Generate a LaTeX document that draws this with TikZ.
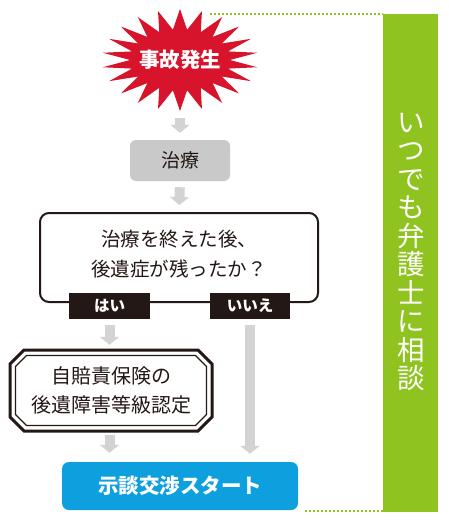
\documentclass[tikz,border=0pt]{standalone}
\usepackage{fontspec}
\setmainfont{Noto Sans CJK JP}
\usetikzlibrary{arrows.meta}
\definecolor{starred}{HTML}{D7142C}
\definecolor{barg}{HTML}{8FC31F}
\definecolor{bblue}{HTML}{0EA0DE}
\definecolor{agray}{HTML}{D3D3D3}
\definecolor{bgray}{HTML}{C9C9C9}
\definecolor{ink}{HTML}{231815}
\begin{document}
\begin{tikzpicture}[x=1pt,y=-1pt,
  garrow/.style={draw=agray, line width=10pt, -{Triangle[length=8pt,width=19pt]}},
  lab/.style={fill=ink, text=white, font=\fontsize{15.5}{15.5}\selectfont\bfseries, minimum height=26pt, inner sep=0pt},
  dots/.style={draw=barg, line width=1.6pt, dash pattern=on 2pt off 2pt}]
\useasboundingbox (0,0) rectangle (449,522);
% green bar
\fill[barg] (383,14) rectangle (438,512);
\node[text=white, align=center, font=\fontsize{27.5}{28.5}\selectfont] (bar) at (411,252)
  {い\\つ\\で\\も\\弁\\護\\士\\に\\相\\談};
\draw[dots] (210,14) -- (383,14);
\draw[dots] (305,511) -- (383,511);
% starburst
\fill[starred] plot[samples=45, domain=0:44, variable=\k]
  ({180+78*(1-0.36*mod(round(\k),2))*cos(\k*360/44-90)},
   {60+51*(1-0.40*mod(round(\k),2))*sin(\k*360/44-90)}) -- cycle;
\node[minimum width=100pt, minimum height=116pt, inner sep=0pt, text=white,
  font=\fontsize{20.5}{20.5}\selectfont\bfseries] (acc) at (180,60) {事故発生};
% care
\node[fill=bgray, rounded corners=6pt, minimum width=100pt, minimum height=41pt,
  inner sep=0pt, text=ink, font=\fontsize{19}{19}\selectfont] (care) at (180,160.5) {治療};
% question
\node[draw=ink, line width=2pt, rounded corners=9pt, minimum width=278pt,
  minimum height=89pt, inner sep=0pt] (q) at (179,257.5) {};
\node[align=center, text=ink, font=\fontsize{19.5}{29.5}\selectfont] (qt) at (179,254)
  {治療を終えた後、\\後遺症が残ったか？};
\node[lab, minimum width=81pt] (yes) at (109.5,306) {はい};
\node[lab, minimum width=80pt] (no) at (250,306) {いいえ};
% octagon
\node[minimum width=202pt, minimum height=81pt, inner sep=0pt] (oct) at (111,390.5) {};
\draw[ink, line width=3pt, fill=white, line join=miter]
  (10,364) -- (24,350) -- (198,350) -- (212,364) -- (212,417) -- (198,431)
  -- (24,431) -- (10,417) -- cycle;
\draw[ink, line width=1.2pt, line join=miter]
  (15.5,366.5) -- (26.5,355.5) -- (195.5,355.5) -- (206.5,366.5) -- (206.5,414.5)
  -- (195.5,425.5) -- (26.5,425.5) -- (15.5,414.5) -- cycle;
\node[align=center, text=ink, font=\fontsize{20}{29}\selectfont] (octt) at (oct.center)
  {自賠責保険の\\後遺障害等級認定};
% blue
\node[fill=bblue, rounded corners=7pt, minimum width=236pt, minimum height=48pt,
  inner sep=0pt, text=white, font=\fontsize{20.5}{20.5}\selectfont\bfseries] (go) at (180,486)
  {示談交渉スタート};
% arrows
\draw[garrow, shorten >=7pt] (acc.south) -- (care.north);
\draw[garrow, shorten <=6pt, shorten >=7pt] (care.south) -- (q.north);
\draw[garrow, shorten <=6pt, shorten >=5pt] (yes.south) -- (yes.south |- oct.north);
\draw[garrow, shorten <=4pt, shorten >=9pt] (oct.south -| yes.south) -- (yes.south |- go.north);
\draw[garrow, shorten <=6pt, shorten >=8pt] (no.south) -- (no.south |- go.north);
\end{tikzpicture}
\end{document}
